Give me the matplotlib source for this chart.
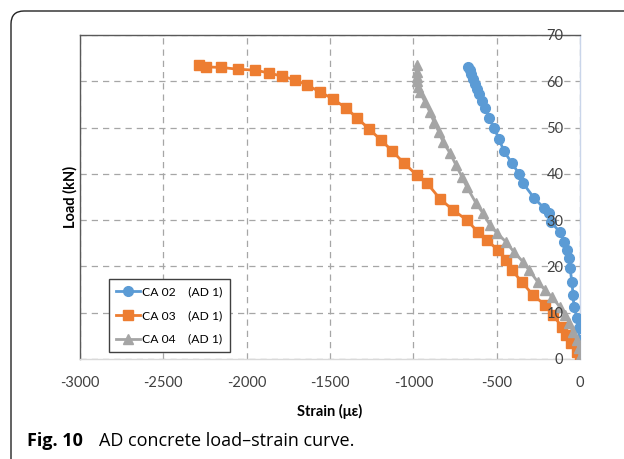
import matplotlib
matplotlib.use("Agg")

import matplotlib.pyplot as plt
from matplotlib.patches import FancyBboxPatch
from matplotlib.ticker import FixedLocator

# ---------------------------------------------------------------------------
# DATA
# ---------------------------------------------------------------------------

ca02_strain = [0, -2, -3, -6, -18, -36, -42, -48, -60, -66, -78, -96, -120,
               -174, -186, -216, -276, -342, -366, -408, -456, -486, -516,
               -546, -570, -590, -606, -618, -630, -642, -654, -663, -672]
ca02_load = [0.5, 1.5, 4.1, 6.7, 8.9, 11.2, 13.8, 16.6, 19.6, 21.8, 23.5,
             25.3, 27.4, 29.6, 31.5, 32.6, 34.8, 38.0, 40.0, 42.3, 44.9,
             47.5, 49.9, 52.1, 54.2, 55.8, 57.2, 58.3, 59.5, 60.5, 61.6,
             62.4, 63.1]

ca03_strain = [0, -18, -54, -84, -108, -162, -210, -282, -348, -408, -444,
               -492, -558, -612, -678, -762, -840, -918, -978, -1056, -1128,
               -1194, -1266, -1338, -1404, -1482, -1560, -1638, -1710, -1788,
               -1866, -1950, -2052, -2154, -2244, -2286]
ca03_load = [0.4, 1.5, 3.5, 5.2, 6.9, 9.5, 11.7, 13.8, 16.6, 19.2, 21.4,
             23.5, 25.7, 27.4, 30.0, 32.2, 34.6, 38.0, 39.7, 42.3, 45.0,
             47.3, 49.7, 52.1, 54.2, 56.2, 57.7, 59.2, 60.3, 61.1, 61.8,
             62.4, 62.6, 63.0, 63.1, 63.5]

ca04_strain = [0, -6, -18, -42, -66, -90, -120, -168, -210, -252, -306,
               -342, -396, -444, -498, -540, -582, -624, -678, -708, -744,
               -780, -822, -846, -876, -900, -930, -960, -972, -978, -978,
               -980, -978]
ca04_load = [0.4, 2.4, 4.1, 5.8, 7.8, 9.5, 11.2, 13.4, 14.9, 16.6, 19.2,
             21.0, 23.1, 25.3, 27.2, 28.9, 31.5, 33.7, 37.1, 39.3, 41.9,
             44.5, 46.9, 49.0, 51.2, 53.3, 55.5, 57.7, 58.8, 60.0, 61.0,
             62.0, 63.5]

x_ticks = [-3000, -2500, -2000, -1500, -1000, -500, 0]
x_tick_labels = ["-3000", "-2500", "-2000", "-1500", "-1000", "-500", "0"]
y_ticks = [0, 10, 20, 30, 40, 50, 60, 70]

BLUE = "#5B9BD5"
ORANGE = "#ED7D31"
GRAY = "#A5A5A5"
TXT = "#404040"

plt.rcParams["font.family"] = ["Lato", "DejaVu Sans"]

# ---------------------------------------------------------------------------
# FIGURE
# ---------------------------------------------------------------------------

fig = plt.figure(figsize=(6.24, 4.59), dpi=100)
ax = fig.add_axes([80 / 624, 1 - 359 / 459, 500 / 624, 324 / 459])

ax.plot(ca02_strain, ca02_load, color=BLUE, lw=2, marker="o", ms=7,
        label="CA 02    (AD 1)", zorder=3)
ax.plot(ca03_strain, ca03_load, color=ORANGE, lw=2, marker="s", ms=7,
        label="CA 03    (AD 1)", zorder=3)
ax.plot(ca04_strain, ca04_load, color=GRAY, lw=2, marker="^", ms=7,
        label="CA 04    (AD 1)", zorder=3)

ax.set_xlim(-3000, 0)
ax.set_ylim(0, 70)
ax.xaxis.set_major_locator(FixedLocator(x_ticks))
ax.set_xticklabels(x_tick_labels)
ax.yaxis.set_major_locator(FixedLocator(y_ticks))
ax.tick_params(axis="y", length=0, labelleft=False)
ax.tick_params(axis="x", length=0, pad=12, labelsize=10.5, labelcolor=TXT)

ax.grid(True, color="#A6A6A6", ls=(0, (5, 4)), lw=0.9, zorder=0)

ax.spines["top"].set_color("#595959")
ax.spines["left"].set_color("#595959")
ax.spines["right"].set_color("#C9D5EA")
ax.spines["bottom"].set_color("#D9D9D9")
for s in ax.spines.values():
    s.set_linewidth(1.0)

ax.set_xlabel("Strain (με)", fontweight="bold", fontsize=10.5, labelpad=10)
ax.set_ylabel("Load (kN)", fontweight="bold", fontsize=10.5, labelpad=2)

leg = ax.legend(loc="lower left", bbox_to_anchor=(29 / 500, 7 / 324),
                borderaxespad=0, fontsize=8.7, frameon=True, fancybox=False,
                handlelength=2.0, handletextpad=0.15, borderpad=0.6,
                labelspacing=1.05, framealpha=1)
leg.get_frame().set_edgecolor(TXT)
leg.get_frame().set_linewidth(1.0)

# y tick labels sit inside the plot, left of the x=0 axis, above the markers
ax2 = ax.twinx()
ax2.set_ylim(0, 70)
ax2.yaxis.set_major_locator(FixedLocator(y_ticks))
ax2.tick_params(axis="y", length=0, pad=-12, labelsize=10.5, labelcolor=TXT)
for lbl in ax2.get_yticklabels():
    lbl.set_horizontalalignment("right")
for s in ax2.spines.values():
    s.set_visible(False)

# ---------------------------------------------------------------------------
# CAPTION + ROUNDED BORDER
# ---------------------------------------------------------------------------

border = FancyBboxPatch((0.11, -0.3), 6.5, 4.78,
                        boxstyle="round,pad=0,rounding_size=0.13",
                        transform=fig.dpi_scale_trans, fill=False,
                        ec="#222222", lw=1.0)
fig.patches.append(border)

fig.text(27 / 624, 1 - 446 / 459, "Fig. 10", fontweight="bold", fontsize=13,
         family="Open Sans", va="baseline")
fig.text(99 / 624, 1 - 446 / 459, "AD concrete load–strain curve.",
         fontsize=13, family="Open Sans", va="baseline")

fig.savefig("out.png", dpi=100)
